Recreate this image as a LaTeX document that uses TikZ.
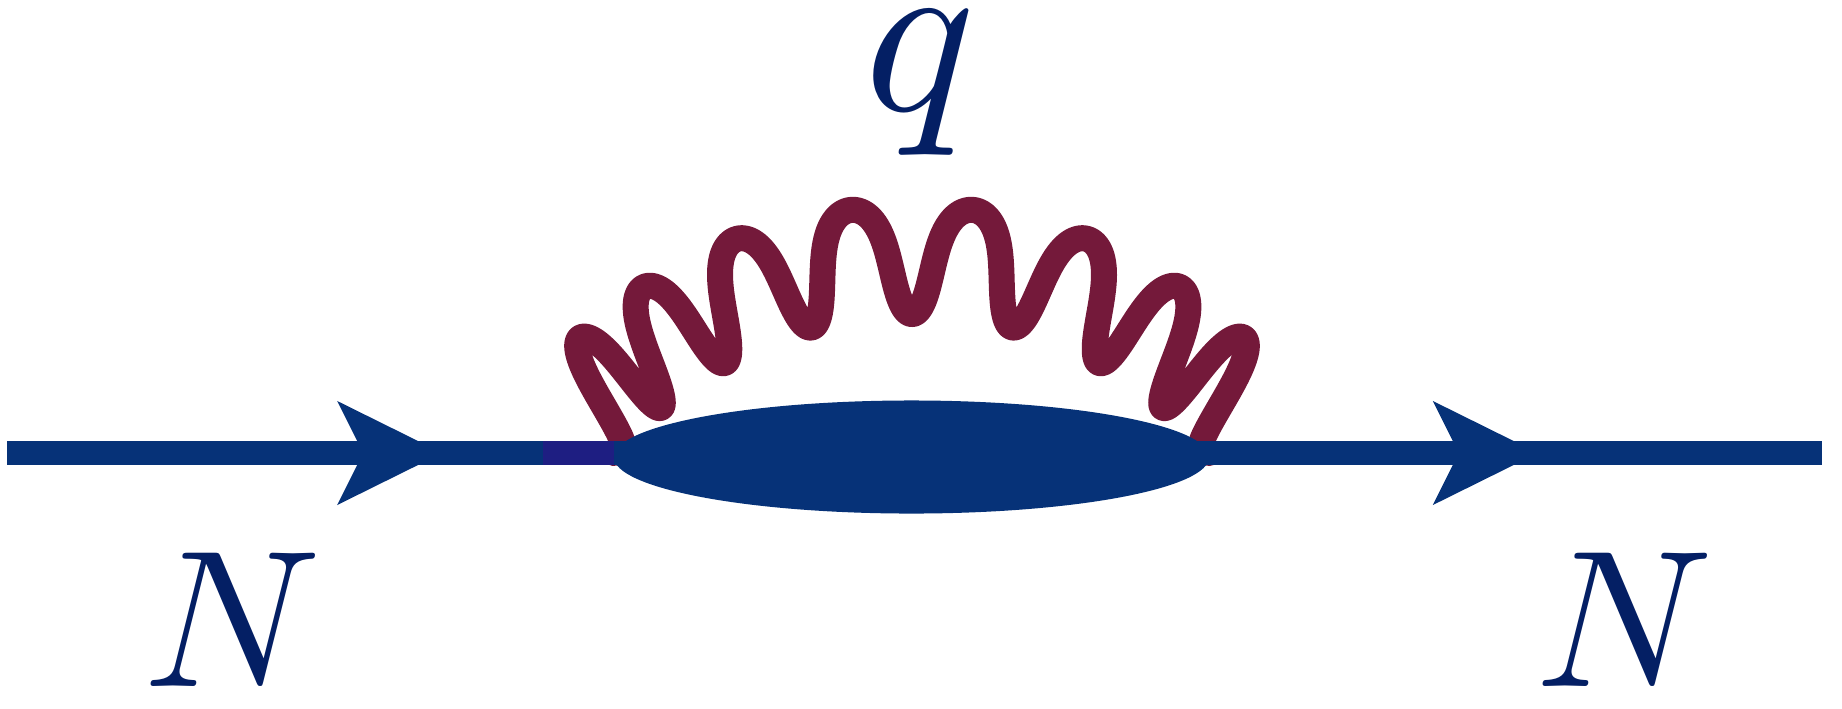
\documentclass[tikz,border=0pt]{standalone}
\usetikzlibrary{shapes.geometric,arrows.meta,decorations.markings}
\definecolor{fermblue}{RGB}{6,50,120}
\definecolor{labnavy}{RGB}{4,31,100}
\definecolor{gluonred}{RGB}{116,25,58}
\definecolor{patchblue}{RGB}{30,30,130}
\tikzset{fermtip/.tip={Stealth[length=1.05cm,width=1.04cm,inset=0.26cm,line width=0pt]}}
\begin{document}
\begin{tikzpicture}[x=0.01cm,y=-0.01cm,
  fermion/.style={draw=fermblue, line width=0.24cm},
  gluon/.style={draw=gluonred, line width=0.26cm, line cap=round, line join=round},
  blob/.style={ellipse, fill=fermblue, inner sep=0pt, minimum width=5.95cm, minimum height=1.13cm},
  lab/.style={text=labnavy, inner sep=0pt, anchor=base},
  declare function={gje(\j)=\j+0.03*sin(720*\j)-0.05*sin(360*\j);
    gphi(\j)=15*gje(\j)-0.19*gje(\j)*gje(\j)*gje(\j);
    goff(\j)=-54*cos(360*\j);
    gx(\j)=912-433*sin(gphi(\j))-goff(\j)*sin(0.75*gphi(\j));
    gy(\j)=693-433*cos(gphi(\j))-goff(\j)*cos(0.75*gphi(\j));}
]
\useasboundingbox (0,0) rectangle (1842,708);
\coordinate (in) at (7,453);
\coordinate (out) at (1822,453);
\coordinate (vl) at (614,453);
\coordinate (vr) at (1209,453);
\coordinate (p1) at (543,453);
% gluon loop
\draw[gluon] (vl) -- plot[domain=4:-4, samples=801, variable=\j]
  ({gx(\j)}, {gy(\j)}) -- (vr);
% nucleon line
\draw[fermion, postaction={decorate}, decoration={markings,
   mark=at position 4.35cm with {\arrow{fermtip}},
   mark=at position 15.30cm with {\arrow{fermtip}}}] (in) -- (out);
\draw[fermion, draw=patchblue] (p1) -- (vl);
\node[blob] (ell) at (911.5,457) {};
% labels
\node[lab, scale=6.57] (q) at (920,110) {$q$};
\node[lab, scale=5.55] (nin) at (233,686) {$N$};
\node[lab, scale=5.55] (nout) at (1625,686) {$N$};
\end{tikzpicture}
\end{document}
